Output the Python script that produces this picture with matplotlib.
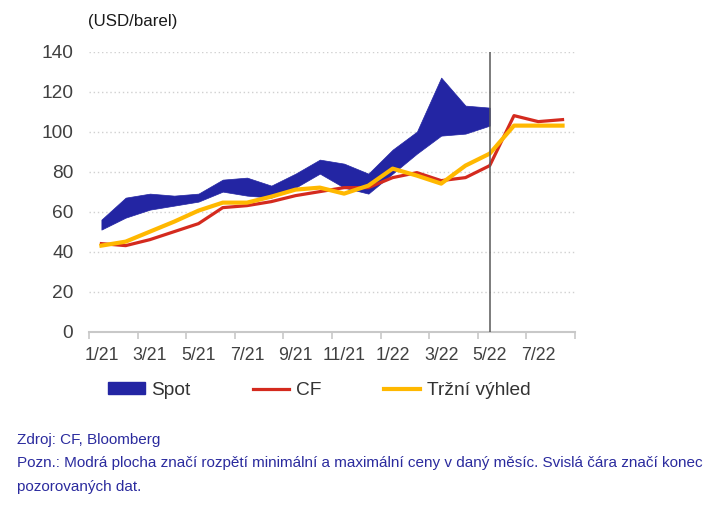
import numpy as np
import matplotlib
matplotlib.use('Agg')
import matplotlib.pyplot as plt
from matplotlib.patches import Patch
from matplotlib.lines import Line2D

plt.rcParams['font.family'] = ['Liberation Sans', 'DejaVu Sans']

months = ['1/21', '2/21', '3/21', '4/21', '5/21', '6/21', '7/21', '8/21', '9/21', '10/21',
          '11/21', '12/21', '1/22', '2/22', '3/22', '4/22', '5/22', '6/22', '7/22', '8/22']
spot_max = [56, 67, 69, 68, 69, 76, 77, 73, 79, 86, 84, 79, 91, 100, 127, 113, 112]   # do 5/22
spot_min = [51, 57, 61, 63, 65, 70, 68, 67, 72, 79, 72, 69, 79, 89, 98, 99, 103]
cf = [44, 43, 46, 50, 54, 62, 63, 65, 68, 70, 72, 72, 77, 79.5, 75.5, 77, 83, 108, 105, 106]
trh = [43, 45, 50, 55, 60.5, 64.5, 64.5, 67.5, 71, 72, 69, 73, 81.5, 78, 74, 83, 89, 103, 103, 103]
konec = 16   # posledni pozorovany mesic (5/22)

fig = plt.figure(figsize=(7.17, 5.11), dpi=100)
ax = fig.add_axes([0.1245, 0.351, 0.677, 0.548])

x = np.arange(len(months))
xs = np.arange(len(spot_max))
ax.fill_between(xs, spot_min, spot_max, color='#2325A3', lw=0.5, zorder=2)
ax.plot(x, cf, color='#D42A1E', lw=2.3, zorder=3)
ax.plot(x, trh, color='#FFB800', lw=3, zorder=4)
ax.axvline(konec, color='#595959', lw=1.1, zorder=5)

ax.set_xlim(-0.5, len(months) - 0.5)
ax.set_ylim(0, 140)
ax.set_yticks(np.arange(0, 141, 20))
ax.yaxis.grid(True, linestyle=(0, (1, 2)), color='#d0d0d0', lw=1)
ax.set_axisbelow(True)

ax.set_xticks(np.arange(-0.5, len(months), 2))
ax.set_xticklabels([])
ax.set_xticks(x[::2], minor=True)
ax.set_xticklabels(months[::2], minor=True)
ax.tick_params(axis='x', which='major', length=5, width=1.2, color='#c8c8c8', direction='out')
ax.tick_params(axis='x', which='minor', length=0, labelsize=12.8, colors='#404040', pad=11)
ax.tick_params(axis='y', length=0, labelsize=13.8, colors='#404040', pad=11.5)

for s in ['top', 'right', 'left']:
    ax.spines[s].set_visible(False)
ax.spines['bottom'].set_color('#c8c8c8')
ax.spines['bottom'].set_linewidth(1.5)

fig.text(0.123, 0.958, '(USD/barel)', fontsize=12.2, color='#1a1a1a', va='center')

handles = [Patch(facecolor='#2325A3', edgecolor='#2325A3'),
           Line2D([], [], color='#D42A1E', lw=2.3),
           Line2D([], [], color='#FFB800', lw=3)]
fig.legend(handles, ['Spot', 'CF', 'Tržní výhled'], loc='center left',
           bbox_to_anchor=(0.127, 0.236), ncol=3, frameon=False, fontsize=13.8,
           handlelength=1.9, handleheight=0.55, handletextpad=0.35, columnspacing=3.25,
           labelcolor='#333333')

fc = '#2B2B9E'
fig.text(0.024, 0.139, 'Zdroj: CF, Bloomberg', fontsize=11, color=fc, va='center')
fig.text(0.024, 0.093, 'Pozn.: Modrá plocha značí rozpětí minimální a maximální ceny v daný měsíc. '
         'Svislá čára značí konec', fontsize=11, color=fc, va='center')
fig.text(0.024, 0.047, 'pozorovaných dat.', fontsize=11, color=fc, va='center')

fig.savefig('out.png', dpi=100)
